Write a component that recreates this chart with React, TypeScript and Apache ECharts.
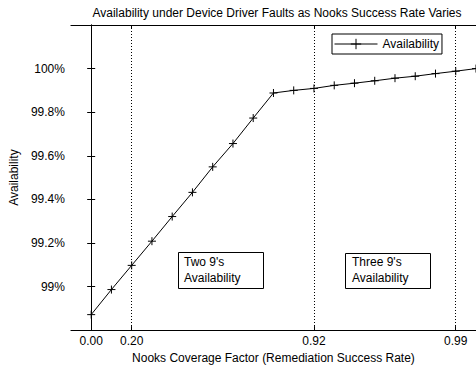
import React, { useEffect, useRef } from "react";
import * as echarts from "echarts";

const coverage = ["0.00","0.10","0.20","0.30","0.40","0.50","0.60","0.70","0.80","0.90","0.91","0.92","0.93","0.94","0.95","0.96","0.97","0.98","0.99","1.00"];
const availability = [98.871, 98.986, 99.097, 99.208, 99.321, 99.432, 99.549, 99.656, 99.773, 99.888, 99.9, 99.909, 99.923, 99.933, 99.944, 99.956, 99.965, 99.977, 99.988, 100.0];
const xTickLabels = ["0.00", "0.20", "0.92", "0.99"];
const yMin = 98.8;
const yMax = 100.2;
const yStep = 0.2;
const seriesName = "Availability";
const titleText = "Availability under Device Driver Faults as Nooks Success Rate Varies";
const xName = "Nooks Coverage Factor (Remediation Success Rate)";
const yName = "Availability";
const noteTwo = "Two 9's\nAvailability";
const noteThree = "Three 9's\nAvailability";

const FONT = "'Liberation Sans', Arial, sans-serif";
const FS = 12;

export default function App() {
  const ref = useRef<HTMLDivElement>(null);
  useEffect(() => {
    if (!ref.current) return;
    const chart = echarts.init(ref.current, null, { renderer: "svg" });
    const tickIdx = xTickLabels.map((l) => coverage.indexOf(l));
    const data = availability.map((v, i) => [i, v]);
    const fmtY = (v: number) => {
      const r = Math.round(v * 10) / 10;
      return (Number.isInteger(r) ? r.toFixed(0) : r.toFixed(1)) + "%";
    };
    const axisLine = { show: true, lineStyle: { color: "#000", width: 1 } };
    chart.setOption({
      animation: false,
      backgroundColor: "#fff",
      textStyle: { fontFamily: FONT, color: "#000" },
      title: {
        text: titleText,
        left: 272,
        textAlign: "center",
        top: 2,
        textStyle: { fontSize: FS, fontWeight: "normal", color: "#000", fontFamily: FONT },
      },
      legend: {
        left: 332,
        top: 34,
        orient: "horizontal",
        backgroundColor: "#fff",
        borderColor: "#000",
        borderWidth: 1,
        padding: [4, 3, 4, 2],
        itemWidth: 43,
        itemHeight: 13,
        itemGap: 4,
        lineStyle: { width: 1, color: "#000" },
        itemStyle: { borderWidth: 1, borderColor: "#000", color: "#000" },
        textStyle: { fontSize: FS, color: "#000", fontFamily: FONT },
        data: [seriesName],
      },
      grid: { left: 69, top: 25, width: 411, height: 308, containLabel: false },
      xAxis: [
        {
          type: "value",
          min: -1,
          max: coverage.length - 1,
          interval: 1,
          position: "bottom",
          axisLine,
          axisTick: { show: true, inside: true, length: 4, customValues: tickIdx, lineStyle: { color: "#000" } },
          axisLabel: {
            show: true,
            customValues: tickIdx,
            margin: 5,
            fontSize: FS,
            color: "#000",
            fontFamily: FONT,
            formatter: (v: number) => coverage[Math.round(v)] ?? "",
          },
          splitLine: { show: true, lineStyle: { color: "#000", type: [1, 2], width: 1 } },
          name: xName,
          nameLocation: "middle",
          nameGap: 18,
          nameTextStyle: { fontSize: FS, color: "#000", fontFamily: FONT, verticalAlign: "top" },
        },
        {
          type: "value",
          min: -1,
          max: coverage.length - 1,
          interval: 1,
          position: "top",
          axisLine,
          axisTick: { show: true, inside: true, length: 4, customValues: tickIdx, lineStyle: { color: "#000" } },
          axisLabel: { show: false },
          splitLine: { show: false },
        },
      ],
      yAxis: [
        {
          type: "value",
          min: yMin,
          max: yMax,
          interval: yStep,
          position: "left",
          axisLine,
          axisTick: { show: true, inside: true, length: 4, lineStyle: { color: "#000" } },
          axisLabel: {
            show: true,
            margin: 6,
            fontSize: FS,
            color: "#000",
            fontFamily: FONT,
            showMinLabel: false,
            showMaxLabel: false,
            formatter: fmtY,
          },
          splitLine: { show: false },
          name: yName,
          nameLocation: "middle",
          nameRotate: 90,
          nameGap: 41,
          nameTextStyle: { fontSize: FS, color: "#000", fontFamily: FONT },
        },
        {
          type: "value",
          min: yMin,
          max: yMax,
          interval: yStep,
          position: "right",
          axisLine,
          axisTick: { show: true, inside: true, length: 4, lineStyle: { color: "#000" } },
          axisLabel: { show: false },
          splitLine: { show: false },
        },
      ],
      series: [
        {
          name: seriesName,
          type: "line",
          xAxisIndex: 0,
          yAxisIndex: 0,
          data,
          symbol: "path://M5 0 L5 10 M0 5 L10 5",
          symbolSize: 8,
          showSymbol: true,
          lineStyle: { color: "#000", width: 1 },
          itemStyle: { color: "#000", borderColor: "#000", borderWidth: 1 },
        },
      ],
      graphic: [
        {
          type: "group",
          left: 178,
          top: 252,
          children: [
            { type: "rect", shape: { x: 0.5, y: 0.5, width: 85, height: 36 }, style: { fill: "#fff", stroke: "#000", lineWidth: 1 } },
            { type: "text", x: 6, y: 2, style: { text: noteTwo, font: `${FS}px ${FONT}`, fill: "#000", lineHeight: 16 } },
          ],
        },
        {
          type: "group",
          left: 345,
          top: 253,
          children: [
            { type: "rect", shape: { x: 0.5, y: 0.5, width: 85, height: 35 }, style: { fill: "#fff", stroke: "#000", lineWidth: 1 } },
            { type: "text", x: 7, y: 1, style: { text: noteThree, font: `${FS}px ${FONT}`, fill: "#000", lineHeight: 16 } },
          ],
        },
      ],
    });
    return () => chart.dispose();
  }, []);
  return <div ref={ref} style={{ position: "fixed", left: 0, top: 0, width: 476, height: 369 }} />;
}
